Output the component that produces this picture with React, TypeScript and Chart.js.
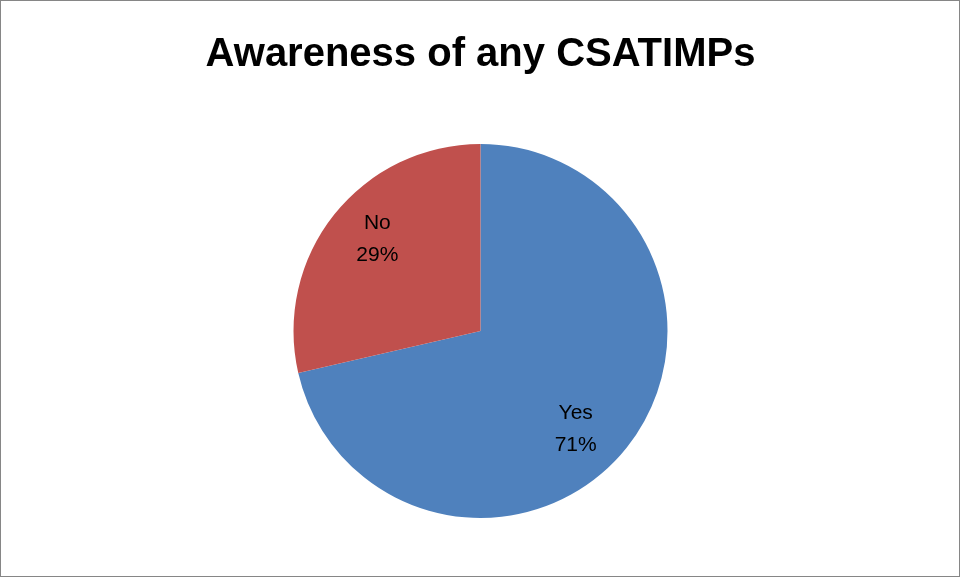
import React, { useEffect, useRef } from "react";
import { Chart, registerables } from "chart.js";

Chart.register(...registerables);

const TITLE = "Awareness of any CSATIMPs";
const categories = ["Yes", "No"];
const shares = [71.4, 28.6];
const sliceColors = ["#4F81BD", "#C0504D"];

const frameBorder = {
  id: "frameBorder",
  beforeDraw(chart: any) {
    const { ctx, width, height } = chart;
    ctx.save();
    ctx.fillStyle = "#ffffff";
    ctx.fillRect(0, 0, width, height);
    ctx.strokeStyle = "#868686";
    ctx.lineWidth = 1;
    ctx.strokeRect(0.5, 0.5, width - 2, height - 2);
    ctx.restore();
  },
};

const sliceLabels = {
  id: "sliceLabels",
  afterDatasetsDraw(chart: any) {
    const { ctx } = chart;
    const meta = chart.getDatasetMeta(0);
    const data = chart.data.datasets[0].data as number[];
    const total = data.reduce((a, b) => a + b, 0);
    ctx.save();
    ctx.fillStyle = "#000000";
    ctx.font = "21px 'Liberation Sans', Arial, sans-serif";
    ctx.textAlign = "center";
    ctx.textBaseline = "middle";
    meta.data.forEach((arc: any, i: number) => {
      const p = arc.getProps(["x", "y", "startAngle", "endAngle", "outerRadius"], true);
      const mid = (p.startAngle + p.endAngle) / 2 + 0.091;
      const d = p.outerRadius * 0.734;
      const cx = p.x + Math.cos(mid) * d - 4;
      const cy = p.y + Math.sin(mid) * d + 3;
      const pct = Math.round((data[i] / total) * 100) + "%";
      ctx.fillText(String(chart.data.labels[i]), cx, cy - 16);
      ctx.fillText(pct, cx, cy + 16);
    });
    ctx.restore();
  },
};

export default function App() {
  const ref = useRef<HTMLCanvasElement | null>(null);
  useEffect(() => {
    if (!ref.current) return;
    const chart = new Chart(ref.current, {
      type: "pie",
      data: {
        labels: categories,
        datasets: [
          {
            data: shares,
            backgroundColor: sliceColors,
            borderWidth: 0,
          },
        ],
      },
      options: {
        animation: false,
        responsive: false,
        maintainAspectRatio: false,
        layout: { padding: { top: 0, bottom: 60, left: 0, right: 0 } },
        plugins: {
          legend: { display: false },
          tooltip: { enabled: false },
          title: {
            display: true,
            text: TITLE,
            color: "#000000",
            font: { family: "'Liberation Sans', Arial, sans-serif", size: 40, weight: "bold", lineHeight: 1.2 },
            padding: { top: 31, bottom: 65 },
          },
        },
      },
      plugins: [frameBorder, sliceLabels],
    });
    return () => chart.destroy();
  }, []);
  return (
    <div style={{ position: "absolute", left: 0, top: 0, width: 961, height: 578 }}>
      <canvas ref={ref} width={961} height={578} style={{ display: "block", width: 961, height: 578 }} />
    </div>
  );
}
